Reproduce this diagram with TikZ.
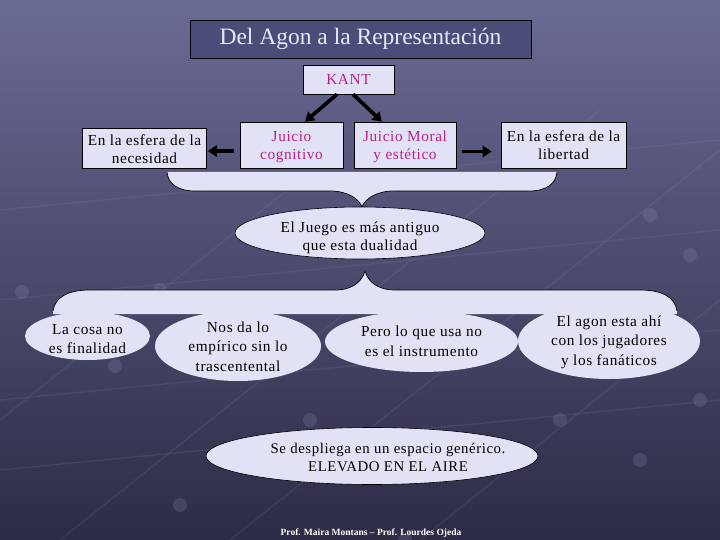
\documentclass[tikz,border=0pt]{standalone}
\usepackage{fontspec}
\setmainfont{Liberation Serif}
\newfontfamily\boxfont[LetterSpace=4]{Liberation Serif}
\usetikzlibrary{arrows.meta,shapes.geometric}
\definecolor{lav}{RGB}{226,226,246}
\definecolor{mag}{RGB}{185,35,135}
\definecolor{bgtop}{RGB}{106,106,150}
\definecolor{bgbot}{RGB}{44,44,70}
\definecolor{titlefill}{RGB}{76,76,120}
\definecolor{titletext}{RGB}{232,232,250}
\definecolor{netc}{RGB}{150,150,195}
\newcommand\shtext[2]{\raisebox{-#1}[\height][\depth]{\begin{tabular}{@{}c@{}}#2\end{tabular}}}
\newcommand\btext[3][0pt]{\makebox[0pt]{\hspace*{#1}\raisebox{\dimexpr -#2-(\height-\depth)/2\relax}[0pt][0pt]{\begin{tabular}{@{}c@{}}#3\end{tabular}}}}
\begin{document}
\begin{tikzpicture}[x=1pt,y=-1pt,
  box/.style={draw=black, line width=0.6pt, fill=lav, inner sep=0pt, align=center,
    font=\boxfont\fontsize{15.3}{18.5}\selectfont},
  bubble/.style={ellipse, fill=lav, inner sep=0pt,
    font=\boxfont\fontsize{15.3}{19.5}\selectfont},
  arr/.style={line width=3.6pt, -{Triangle[length=9pt,width=11pt]}},
  netline/.style={draw=netc, opacity=0.14, line width=1.3pt},
  netdot/.style={fill=netc, opacity=0.2},
  outline/.style={draw=black, line width=0.7pt}
]
\useasboundingbox (0,0) rectangle (720,540);
\shade[top color=bgtop, bottom color=bgbot] (0,0) rectangle (720,540);
% faint network background
\path[netline] (0,300) -- (720,230);
\path[netline] (0,400) -- (720,330);
\path[netline] (0,470) -- (720,400);
\path[netline] (0,210) -- (720,140);
\path[netline] (420,540) -- (720,300);
\path[netline] (230,540) -- (720,150);
\path[netline] (60,540) -- (600,110);
\path[netline] (0,420) -- (300,180);
\path[netdot] (22,292) circle (7);
\path[netdot] (115,366) circle (7);
\path[netdot] (180,505) circle (7);
\path[netdot] (405,540) circle (7);
\path[netdot] (640,460) circle (7);
\path[netdot] (700,400) circle (7);
\path[netdot] (690,255) circle (7);
\path[netdot] (650,215) circle (7);
\path[netdot] (600,300) circle (7);
\path[netdot] (560,420) circle (7);
\path[netdot] (310,420) circle (7);
\path[netdot] (160,290) circle (7);
% upper brace
\fill[lav] (167,172) .. controls (168,184) and (178,191) .. (195,191) -- (330,191)
  .. controls (348,191) and (359,199) .. (362,207)
  .. controls (365,199) and (376,191) .. (394,191) -- (529,191)
  .. controls (546,191) and (556,184) .. (557,172) -- cycle;
\draw[outline] (167,172) .. controls (168,184) and (178,191) .. (195,191) -- (330,191)
  .. controls (348,191) and (359,199) .. (362,207)
  .. controls (365,199) and (376,191) .. (394,191) -- (529,191)
  .. controls (546,191) and (556,184) .. (557,172);
% title and boxes
\node[draw=black, line width=0.6pt, fill=titlefill, inner sep=0pt, minimum width=341pt,
  minimum height=38pt, text=titletext, font=\fontsize{23.5}{28}\selectfont]
  (title) at (360.5,39) {Del Agon a la Representación};
\node[box, minimum width=91pt, minimum height=29pt, text=mag] (kant) at (348.5,79.5) {KANT};
\node[box, minimum width=124pt, minimum height=40pt] (nec) at (144.5,148) {\shtext{3pt}{En la esfera de la\\necesidad}};
\node[box, minimum width=103pt, minimum height=46pt, text=mag] (cog) at (291.5,145) {\shtext{2pt}{Juicio\\cognitivo}};
\node[box, minimum width=102pt, minimum height=46pt, text=mag] (mor) at (405,145) {\shtext{2pt}{Juicio Moral\\y estético}};
\node[box, minimum width=125pt, minimum height=46pt] (lib) at (563.5,145) {\shtext{2pt}{En la esfera de la\\libertad}};
% arrows
\draw[arr] ([xshift=-11.5pt]kant.south) -- ([xshift=13.5pt]cog.north);
\draw[arr] ([xshift=4.5pt]kant.south) -- ([xshift=-23pt]mor.north);
\draw[arr] ([xshift=-6pt,yshift=-6pt]cog.west) -- ([xshift=1pt,yshift=-3pt]nec.east);
\draw[arr] ([xshift=6pt,yshift=-6.5pt]mor.east) -- ([xshift=-9pt,yshift=-6.5pt]lib.west);
% middle ellipse
\node[bubble, draw=black, line width=0.6pt, minimum width=250pt, minimum height=52pt,
  font=\boxfont\fontsize{15.3}{18}\selectfont]
  (juego) at (360,233) {\btext{5pt}{El Juego es más antiguo\\que esta dualidad}};
% lower brace
\fill[lav] (53,314) -- (53,311) .. controls (55,297) and (68,290) .. (90,290) -- (335,290)
  .. controls (352,290) and (362,282) .. (365,271)
  .. controls (368,282) and (378,290) .. (395,290) -- (640,290)
  .. controls (662,290) and (675,297) .. (677,311) -- (677,314) -- cycle;
\draw[outline] (53,311) .. controls (55,297) and (68,290) .. (90,290) -- (335,290)
  .. controls (352,290) and (362,282) .. (365,271)
  .. controls (368,282) and (378,290) .. (395,290) -- (640,290)
  .. controls (662,290) and (675,297) .. (677,311);
% lower ellipses
\node[bubble, minimum width=125pt, minimum height=48pt] (cosa) at (87.5,336) {\btext{4pt}{La cosa no\\es finalidad}};
\node[bubble, minimum width=166pt, minimum height=70pt] (nos) at (238,346) {\btext{2pt}{Nos da lo\\empírico sin lo\\trascentental}};
\node[bubble, minimum width=193pt, minimum height=61pt] (pero) at (421.5,341.5) {\btext{1pt}{Pero lo que usa no\\es el instrumento}};
\node[bubble, minimum width=182pt, minimum height=76pt] (agon) at (609,341) {\btext{1pt}{El agon esta ahí\\con los jugadores\\y los fanáticos}};
\node[bubble, draw=black, line width=0.6pt, minimum width=332pt, minimum height=57pt,
  font=\boxfont\fontsize{14.8}{18}\selectfont]
  (desp) at (372,456) {\btext[32pt]{3pt}{Se despliega en un espacio genérico.\\ELEVADO EN EL AIRE}};
% footer
\node[text=white, inner sep=0pt, font=\fontsize{9.5}{11}\selectfont\bfseries]
  (foot) at (371,533) {Prof. Maira Montans – Prof. Lourdes Ojeda};
\end{tikzpicture}
\end{document}
